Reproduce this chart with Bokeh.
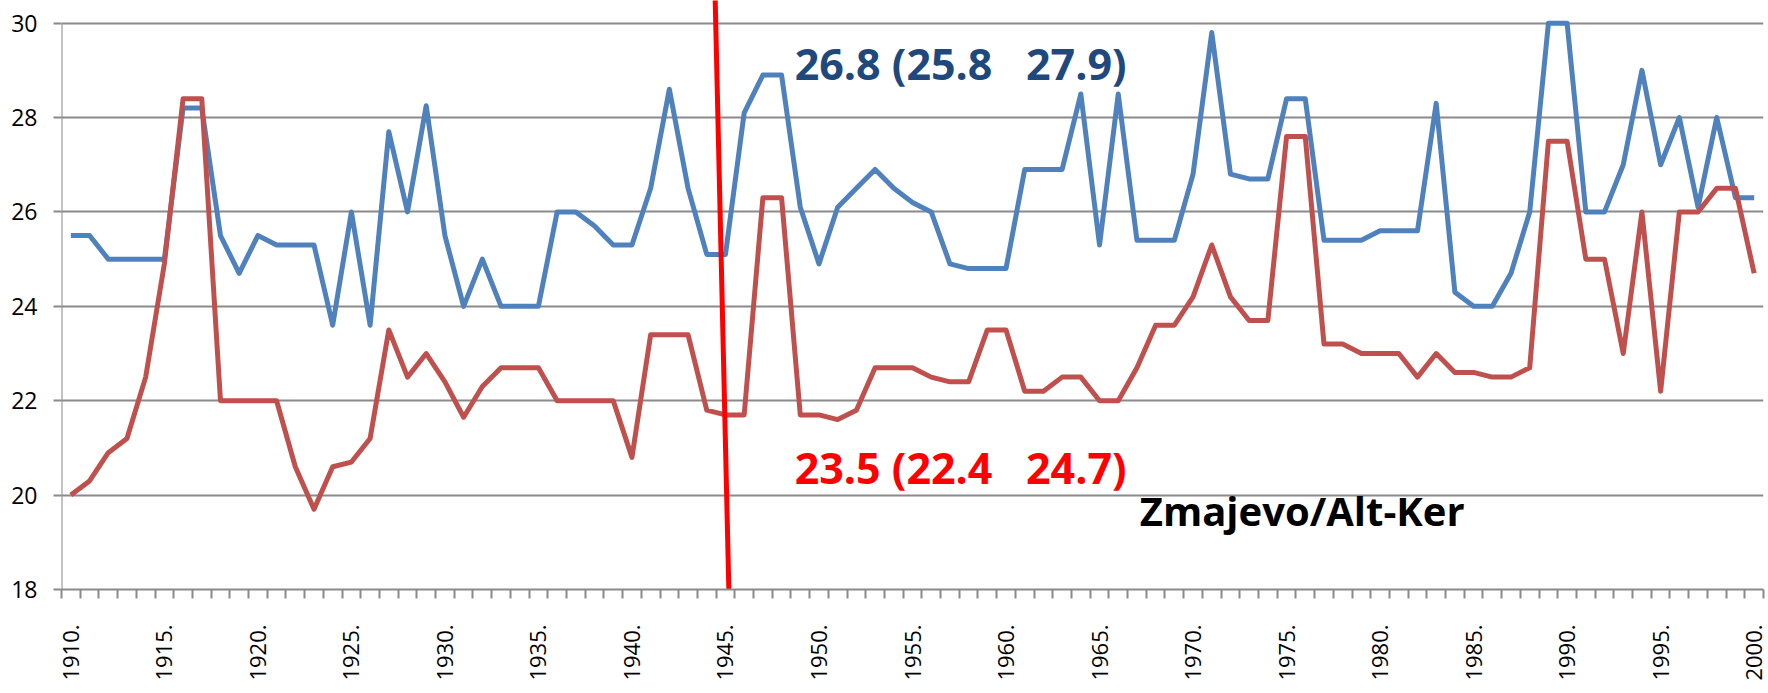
from bokeh.plotting import figure
from bokeh.models import Range1d, FixedTicker, Label, CustomJSTickFormatter
from bokeh.embed import file_html
from bokeh.resources import INLINE
import math

years = list(range(1910, 2001))
blue_vals = [
    25.5, 25.5, 25.0, 25.0, 25.0, 25.0, 28.2, 28.2, 25.5, 24.7,
    25.5, 25.3, 25.3, 25.3, 23.6, 26.0, 23.6, 27.7, 26.0, 28.25,
    25.5, 24.0, 25.0, 24.0, 24.0, 24.0, 26.0, 26.0, 25.7, 25.3,
    25.3, 26.5, 28.6, 26.5, 25.1, 25.1, 28.1, 28.9, 28.9, 26.1,
    24.9, 26.1, 26.5, 26.9, 26.5, 26.2, 26.0, 24.9, 24.8, 24.8,
    24.8, 26.9, 26.9, 26.9, 28.5, 25.3, 28.5, 25.4, 25.4, 25.4,
    26.8, 29.8, 26.8, 26.7, 26.7, 28.4, 28.4, 25.4, 25.4, 25.4,
    25.6, 25.6, 25.6, 28.3, 24.3, 24.0, 24.0, 24.7, 26.0, 30.0,
    30.0, 26.0, 26.0, 27.0, 29.0, 27.0, 28.0, 26.1, 28.0, 26.3,
    26.3,
]
red_vals = [
    20.0, 20.3, 20.9, 21.2, 22.5, 24.9, 28.4, 28.4, 22.0, 22.0,
    22.0, 22.0, 20.6, 19.7, 20.6, 20.7, 21.2, 23.5, 22.5, 23.0,
    22.4, 21.65, 22.3, 22.7, 22.7, 22.7, 22.0, 22.0, 22.0, 22.0,
    20.8, 23.4, 23.4, 23.4, 21.8, 21.7, 21.7, 26.3, 26.3, 21.7,
    21.7, 21.6, 21.8, 22.7, 22.7, 22.7, 22.5, 22.4, 22.4, 23.5,
    23.5, 22.2, 22.2, 22.5, 22.5, 22.0, 22.0, 22.7, 23.6, 23.6,
    24.2, 25.3, 24.2, 23.7, 23.7, 27.6, 27.6, 23.2, 23.2, 23.0,
    23.0, 23.0, 22.5, 23.0, 22.6, 22.6, 22.5, 22.5, 22.7, 27.5,
    27.5, 25.0, 25.0, 23.0, 26.0, 22.2, 26.0, 26.0, 26.5, 26.5,
    24.7,
]
label_years = list(range(1910, 2001, 5))
y_ticks = [18, 20, 22, 24, 26, 28, 30]
NB = "\u00a0"
blue_text = "26.8 (25.8" + NB * 3 + "27.9)"
red_text = "23.5 (22.4" + NB * 3 + "24.7)"
station_text = "Zmajevo/Alt-Ker"
# marker line drawn across 1945
marker_x = [1944.45, 1945.18]
marker_y = [30.5, 18.0]

FONT = "Open Sans"
GRAY = "#8a8a8a"

p = figure(
    frame_width=1702, frame_height=589,
    x_range=Range1d(1909.5, 2000.5), y_range=Range1d(18, 30.48),
    output_backend="svg", toolbar_location=None,
    min_border_left=61, min_border_top=0, min_border_right=5, min_border_bottom=0,
)
p.outline_line_color = None
p.background_fill_color = "white"

# grid
p.xgrid.grid_line_color = None
p.ygrid.grid_line_color = GRAY
p.ygrid.grid_line_width = 2

# y axis
p.yaxis.ticker = FixedTicker(ticks=y_ticks)
p.yaxis.axis_line_color = None
p.yaxis.major_tick_line_color = GRAY
p.yaxis.major_tick_line_width = 2
p.yaxis.major_tick_out = 8
p.yaxis.major_tick_in = 0
p.yaxis.minor_tick_line_color = None
p.yaxis.major_label_text_font = FONT
p.yaxis.major_label_text_font_size = "23px"
p.yaxis.major_label_text_color = "black"
p.yaxis.major_label_standoff = 16

# x axis
p.xaxis.ticker = FixedTicker(ticks=label_years,
                             minor_ticks=[y - 0.5 for y in years] + [years[-1] + 0.5])
p.xaxis.formatter = CustomJSTickFormatter(code="return tick.toFixed(0) + '.';")
p.xaxis.major_label_orientation = math.pi / 2
p.xaxis.major_tick_line_color = None
p.xaxis.minor_tick_line_color = GRAY
p.xaxis.minor_tick_line_width = 2
p.xaxis.minor_tick_out = 9
p.xaxis.minor_tick_in = 0
p.xaxis.axis_line_color = GRAY
p.xaxis.axis_line_width = 2
p.xaxis.major_label_text_font = FONT
p.xaxis.major_label_text_font_size = "22px"
p.xaxis.major_label_text_color = "black"
p.xaxis.major_label_standoff = 26

# left axis line drawn only from 18 to 30
p.segment(x0=[1909.5], y0=[18], x1=[1909.5], y1=[30], line_color=GRAY, line_width=2)

p.line(years, blue_vals, line_color="#4F81BD", line_width=5, line_join="round")
p.line(years, red_vals, line_color="#C0504D", line_width=5, line_join="round")

p.segment(x0=[marker_x[0]], y0=[marker_y[0]], x1=[marker_x[1]], y1=[marker_y[1]],
          line_color="#FF0000", line_width=5)

p.add_layout(Label(x=1948.7, y=29.15, text=blue_text, text_font=FONT, text_font_style="bold",
                   text_font_size="43px", text_color="#1F497D", text_baseline="alphabetic"))
p.add_layout(Label(x=1948.7, y=20.58, text=red_text, text_font=FONT, text_font_style="bold",
                   text_font_size="43px", text_color="#FF0000", text_baseline="alphabetic"))
p.add_layout(Label(x=1967.15, y=19.67, text=station_text, text_font=FONT, text_font_style="bold",
                   text_font_size="40px", text_color="black", text_baseline="alphabetic"))

open("out.html", "w").write(file_html(p, INLINE))
